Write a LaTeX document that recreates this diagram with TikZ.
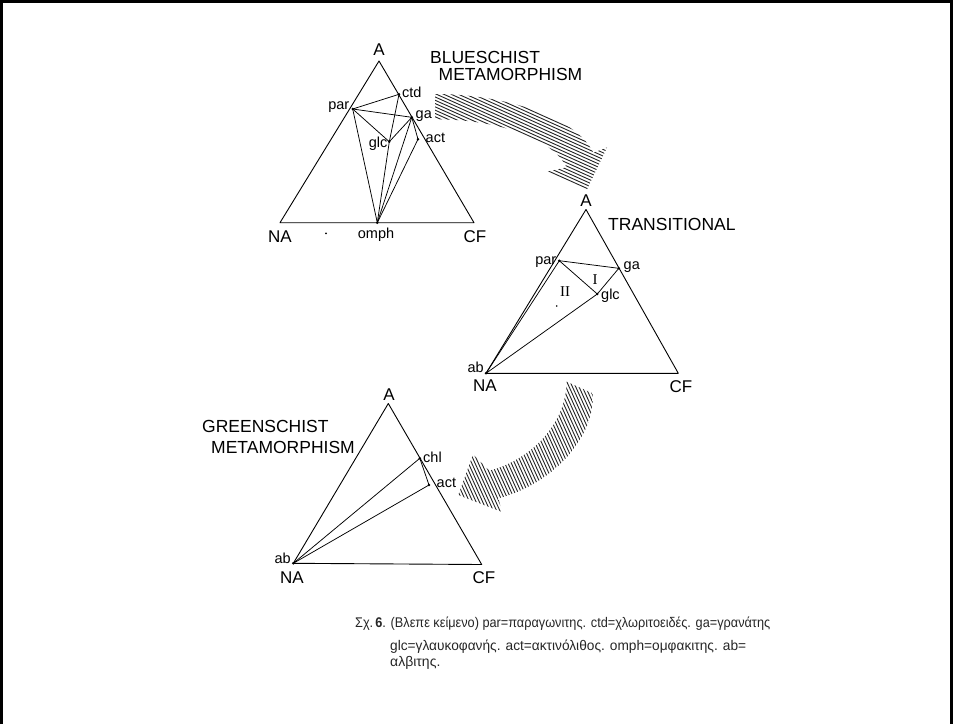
\documentclass[tikz,border=0pt]{standalone}
\usepackage{fontspec}
\usepackage{graphicx}
\setmainfont{Liberation Sans}
\newfontfamily\romanfont{Liberation Serif}
\begin{document}
\begin{tikzpicture}[x=1pt,y=-1pt,
  edge/.style={line width=0.9pt,line join=round},
  tie/.style={line width=0.75pt,line join=round},
  vlab/.style={font=\fontsize{17}{17}\selectfont,inner sep=0pt},
  slab/.style={font=\fontsize{14.5}{14.5}\selectfont,inner sep=0pt},
  ttl/.style={font=\fontsize{17.5}{17.5}\selectfont,inner sep=0pt,anchor=base west},
  roman/.style={font=\romanfont\fontsize{15}{15}\selectfont,inner sep=0pt},
  hatch/.style={line width=0.9pt,black!85},
  capt/.style={font=\fontsize{14}{14}\selectfont,inner sep=0pt,anchor=base west,text=black!85}]
\useasboundingbox (0,0) rectangle (953,724);
\fill[white] (0,0) rectangle (953,724);
% frame
\draw[line width=3pt] (1.5,724) -- (1.5,1.5) -- (951.5,1.5) -- (951.5,724);

% ---------- arrow 1 ----------
\begin{scope}
\clip (435,94) .. controls (500,94) and (575,115) .. (593.3,152.7) -- (607,147.5) -- (586.7,190) -- (545.5,172) -- (566.7,167.3) .. controls (550,135) and (490,119) .. (435,119.3) -- cycle;
\foreach \k in {0,...,64} { \draw[hatch] (425,\k*3.3) -- ++(200,90); }
\end{scope}

% ---------- arrow 2 ----------
\begin{scope}
\clip (566.7,381.7) .. controls (566,425) and (530,460) .. (489.3,470.7) -- (473,454.5) -- (458.3,495) -- (502,512) -- (498.3,498.3) .. controls (550,485) and (595,440) .. (592.7,393.3) -- cycle;
\foreach \k in {0,...,70} { \draw[hatch] (380+\k*3.3,370) -- ++(68,150); }
\end{scope}

% ---------- top triangle (blueschist) ----------
\coordinate (tA) at (379,61);
\coordinate (tNA) at (280,222.7);
\coordinate (tCF) at (474,222.7);
\coordinate (tpar) at (352.7,109);
\coordinate (tctd) at (399,94.3);
\coordinate (tga) at (411.8,117.3);
\coordinate (tglc) at (389.3,141.7);
\coordinate (tact) at (418,139.2);
\coordinate (tomph) at (377.3,222.7);
\draw[edge] (tA) -- (tNA) -- (tCF) -- cycle;
\draw[tie] (tpar) -- (tctd);
\draw[tie] (tpar) -- (tga);
\draw[tie] (tpar) -- (tglc);
\draw[tie] (tpar) -- (tomph);
\draw[tie] (tctd) -- (tglc);
\draw[tie] (tglc) -- (tga);
\draw[tie] (tglc) -- (tomph);
\draw[tie] (tga) -- (tomph);
\draw[tie] (tga) -- (tact);
\draw[tie] (tact) -- (tomph);
\foreach \p in {tpar,tctd,tga,tglc,tact,tomph} { \fill (\p) circle (1.4); }
\fill (326,233.3) circle (1);
\node[vlab] (tAl) at (379,50) {A};
\node[vlab] (tNAl) at (280,237) {NA};
\node[slab] (tomphl) at (376,235) {omph};
\node[vlab] (tCFl) at (475,237) {CF};
\node[slab,anchor=east] (tparl) at (349.5,107) {par};
\node[slab,anchor=west] (tctdl) at (402,92.5) {ctd};
\node[slab,anchor=west] (tgal) at (415.5,116) {ga};
\node[slab,anchor=east] (tglcl) at (387.5,144) {glc};
\node[slab,anchor=west] (tactl) at (425.5,137.5) {act};
\node[ttl] (bs1) at (430,63) {BLUESCHIST};
\node[ttl] (bs2) at (438.5,80.5) {METAMORPHISM};

% ---------- middle triangle (transitional) ----------
\coordinate (mA) at (586,209.5);
\coordinate (mNA) at (486,373.3);
\coordinate (mCF) at (678.3,373.3);
\coordinate (mpar) at (559.3,260.7);
\coordinate (mga) at (618.8,268.3);
\coordinate (mglc) at (597.3,294);
\draw[edge] (mA) -- (mNA) -- (mCF) -- cycle;
\draw[tie] (mpar) -- (mga);
\draw[tie] (mpar) -- (mglc);
\draw[tie] (mga) -- (mglc);
\draw[tie] (mglc) -- (mNA);
\draw[tie] (mpar) -- (mNA);
\foreach \p in {mpar,mga,mglc,mNA} { \fill (\p) circle (1.4); }
\fill (556.7,306) circle (0.9);
\node[vlab] (mAl) at (586,200.5) {A};
\node[ttl] (trans) at (608,230) {TRANSITIONAL};
\node[slab,anchor=east] (mparl) at (556.5,262) {par};
\node[slab,anchor=west] (mgal) at (623.5,267) {ga};
\node[slab,anchor=west] (mglcl) at (601,296) {glc};
\node[roman] (mI) at (595,279.3) {I};
\node[roman] (mII) at (565,291.7) {II};
\node[slab,anchor=east] (mabl) at (484,367) {ab};
\node[vlab] (mNAl) at (485,386) {NA};
\node[vlab] (mCFl) at (681,387) {CF};

% ---------- bottom triangle (greenschist) ----------
\coordinate (bA) at (388.3,403.5);
\coordinate (bNA) at (293.3,563.3);
\coordinate (bCF) at (481.7,564.5);
\coordinate (bchl) at (419.8,458.3);
\coordinate (bact) at (429,485);
\draw[edge] (bA) -- (bNA) -- (bCF) -- cycle;
\draw[tie] (bNA) -- (bchl);
\draw[tie] (bchl) -- (bact);
\draw[tie] (bact) -- (bNA);
\foreach \p in {bchl,bact,bNA} { \fill (\p) circle (1.4); }
\node[vlab] (bAl) at (389,394.5) {A};
\node[ttl] (gs1) at (202,432) {GREENSCHIST};
\node[ttl] (gs2) at (211,453) {METAMORPHISM};
\node[slab,anchor=west] (bchll) at (423,457.5) {chl};
\node[slab,anchor=west] (bactl) at (436.5,483) {act};
\node[slab,anchor=east] (babl) at (291,558) {ab};
\node[vlab] (bNAl) at (292,578) {NA};
\node[vlab] (bCFl) at (484,578) {CF};

% ---------- caption ----------
\node[capt] (c1) at (355,627) {\resizebox{415pt}{\height}{Σχ.\,\textbf{6}. (Βλεπε κείμενο) par=παραγωνιτης. ctd=χλωριτοειδές. ga=γρανάτης}};
\node[capt] (c2) at (390,650) {\resizebox{356pt}{\height}{glc=γλαυκοφανής. act=ακτινόλιθος. omph=ομφακιτης. ab=}};
\node[capt] (c3) at (390,666) {αλβιτης.};
\end{tikzpicture}
\end{document}
